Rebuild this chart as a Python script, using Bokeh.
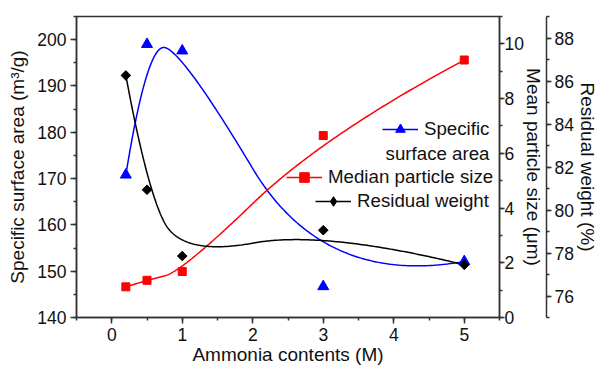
import numpy as np
from bokeh.plotting import figure
from bokeh.models import Range1d, LinearAxis, Legend, LegendItem, Label, SingleIntervalTicker
from bokeh.embed import file_html
from bokeh.resources import INLINE

# ---- data ----
ammonia = [0.2, 0.5, 1.0, 3.0, 5.0]
surface_area = [170.8, 199.0, 197.6, 146.7, 152.1]      # m^2/g (left axis)
particle_size = [1.12, 1.36, 1.68, 6.65, 9.41]          # um (middle right axis)
residual_weight = [86.26, 80.94, 77.86, 79.06, 77.45]   # % (far right axis)

FONT = "Liberation Sans"


def bspline(cx, cy, n=300, k=2):
    """Clamped B-spline that uses the data points as control points (Origin 'B-Spline' connect)."""
    cx = np.asarray(cx, float)
    cy = np.asarray(cy, float)
    m = len(cx)
    inner = np.linspace(0.0, 1.0, m - k + 1)
    knots = np.concatenate([[0.0] * k, inner, [1.0] * k])
    t = np.linspace(0.0, 1.0 - 1e-9, n)

    def N(i, d):
        if d == 0:
            return np.where((knots[i] <= t) & (t < knots[i + 1]), 1.0, 0.0)
        out = np.zeros_like(t)
        den1 = knots[i + d] - knots[i]
        den2 = knots[i + d + 1] - knots[i + 1]
        if den1 > 0:
            out += (t - knots[i]) / den1 * N(i, d - 1)
        if den2 > 0:
            out += (knots[i + d + 1] - t) / den2 * N(i + 1, d - 1)
        return out

    B = np.array([N(i, k) for i in range(m)])
    return B.T @ cx, B.T @ cy


p = figure(width=600, height=367, output_backend="svg", toolbar_location=None,
           x_range=Range1d(-0.5, 5.5), y_range=Range1d(140, 205),
           min_border_left=76, min_border_right=100, min_border_top=16, min_border_bottom=49)
p.extra_y_ranges = {"size": Range1d(0, 11), "resid": Range1d(75, 89)}
p.xgrid.visible = False
p.ygrid.visible = False
p.outline_line_color = "#333333"
p.outline_line_width = 1.5
p.background_fill_color = "white"
p.border_fill_color = "white"

AX = "#333333"


def style(ax, label_size="19px"):
    ax.axis_line_color = AX
    ax.axis_line_width = 1.5
    ax.major_tick_line_color = AX
    ax.minor_tick_line_color = AX
    ax.major_tick_line_width = 1.5
    ax.minor_tick_line_width = 1.5
    ax.major_tick_in = 0
    ax.major_tick_out = 6
    ax.minor_tick_in = 0
    ax.minor_tick_out = 3
    ax.major_label_text_font = FONT
    ax.major_label_text_font_size = "17.5px"
    ax.major_label_text_color = "#111111"
    ax.axis_label_text_font = FONT
    ax.axis_label_text_font_size = label_size
    ax.axis_label_text_font_style = "normal"
    ax.axis_label_text_color = "#111111"


xa = p.xaxis[0]
xa.ticker = SingleIntervalTicker(interval=1, num_minor_ticks=2)
xa.axis_label = "Ammonia contents (M)"
style(xa)
xa.major_label_standoff = 4
xa.axis_label_standoff = 0

ya = p.yaxis[0]
ya.ticker = SingleIntervalTicker(interval=10, num_minor_ticks=2)
ya.axis_label = "Specific surface area (m³/g)"
style(ya)
ya.major_label_standoff = 4
ya.axis_label_standoff = 6

ax_size = LinearAxis(y_range_name="size", axis_label="Mean particle size (μm)",
                     ticker=SingleIntervalTicker(interval=2, num_minor_ticks=2))
style(ax_size)
ax_size.major_tick_out = 5
ax_size.major_label_standoff = 0
ax_size.axis_label_standoff = -4
p.add_layout(ax_size, "right")

ax_res = LinearAxis(y_range_name="resid", axis_label="Residual weight (%)",
                    ticker=SingleIntervalTicker(interval=2, num_minor_ticks=2))
style(ax_res)
ax_res.major_tick_out = 5
ax_res.major_label_standoff = 3
ax_res.axis_label_standoff = 0
p.add_layout(ax_res, "right")

BLUE, RED, BLACK = "#0000FF", "#FF0000", "#000000"

bx, by = bspline(ammonia, surface_area)
rx, ry = bspline(ammonia, particle_size)
kx, ky = bspline(ammonia, residual_weight)

l_blue = p.line(bx, by, line_color=BLUE, line_width=1.5)
l_red = p.line(rx, ry, line_color=RED, line_width=1.5, y_range_name="size")
l_black = p.line(kx, ky, line_color=BLACK, line_width=1.5, y_range_name="resid")

s_blue = p.scatter(ammonia, surface_area, marker="triangle", size=11,
                   fill_color=BLUE, line_color=BLUE)
s_red = p.scatter(ammonia, particle_size, marker="square", size=8,
                  fill_color=RED, line_color=RED, y_range_name="size")
s_black = p.scatter(ammonia, residual_weight, marker="square", size=6.8, angle=np.pi / 4,
                    fill_color=BLACK, line_color=BLACK, y_range_name="resid")
# legend-only diamond swatch (a NaN point, so nothing is drawn inside the plot)
s_black_key = p.scatter([np.nan], [np.nan], marker="diamond", size=10,
                        fill_color=BLACK, line_color=BLACK, y_range_name="resid")

LEG_SIZE = "18.7px"


def make_legend(label, renderers, loc):
    lg = Legend(items=[LegendItem(label=label, renderers=renderers)], location=loc,
                border_line_color=None, background_fill_alpha=0, padding=0, margin=0,
                spacing=0, glyph_width=36, glyph_height=24, label_height=24,
                label_standoff=6, label_text_font=FONT, label_text_font_size=LEG_SIZE,
                label_text_color="#111111")
    p.add_layout(lg, "center")


make_legend("Specific", [l_blue, s_blue], (306, 176))
make_legend("Median particle size", [l_red, s_red], (210, 128))
make_legend("Residual weight", [l_black, s_black_key], (239, 104))
p.add_layout(Label(x=413, y=164, x_units="screen", y_units="screen", text="surface area",
                   text_align="right", text_baseline="middle", text_font=FONT,
                   text_font_size=LEG_SIZE, text_color="#111111"))

open("out.html", "w").write(file_html(p, INLINE))
